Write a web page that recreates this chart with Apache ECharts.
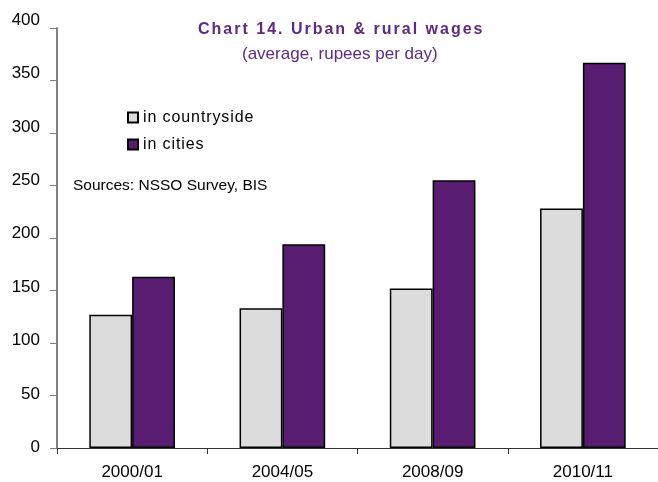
<!DOCTYPE html>
<html>
<head>
<meta charset="utf-8">
<script src="https://cdn.jsdelivr.net/npm/echarts@6/dist/echarts.min.js"></script>
<style>
  html, body { margin: 0; padding: 0; background: #fff; }
  #chart { width: 658px; height: 482px; }
</style>
</head>
<body>
<div id="chart"></div>
<script>
// Average daily wages, rupees
const periods = ['2000/01', '2004/05', '2008/09', '2010/11'];
const countryside = [127, 133, 152, 228];
const cities = [163, 194, 255, 367];
const yTicks = [0, 50, 100, 150, 200, 250, 300, 350, 400];

const titleText = 'Chart 14. Urban & rural wages';
const subtitleText = '(average, rupees per day)';
const sourceText = 'Sources: NSSO Survey, BIS';

const FONT = '"Liberation Sans", Arial, sans-serif';
const PURPLE = '#581d70';
const TITLE_PURPLE = '#5e2a84';

// Spread characters apart by wrapping each one in a padded rich-text token
function spaced(str, style) {
  return str.split('').map(ch => '{' + style + '|' + ch + '}').join('');
}

// Value-axis labels sit a little above their ticks, more so towards the top
const yLabelRich = {};
yTicks.forEach((v, i) => {
  const lift = 0.5 + 7.5 * i / (yTicks.length - 1);
  yLabelRich['y' + i] = {
    fontFamily: FONT, fontSize: 17, color: '#000',
    padding: [0, 0, Math.round(lift * 2), 0]
  };
});

const chart = echarts.init(document.getElementById('chart'), null, { renderer: 'canvas' });

chart.setOption({
  animation: false,
  backgroundColor: '#ffffff',
  textStyle: { fontFamily: FONT },
  legend: {
    orient: 'vertical',
    left: 127,
    top: 109,
    padding: 0,
    itemWidth: 10,
    itemHeight: 10,
    itemGap: 10,
    icon: 'rect',
    formatter: name => spaced(name, 'c'),
    textStyle: {
      fontFamily: FONT, fontSize: 16, color: '#000', lineHeight: 17,
      rich: { c: { fontFamily: FONT, fontSize: 16, color: '#000', padding: [0, 0.9, 0, 0] } }
    },
    data: ['in countryside', 'in cities']
  },
  graphic: [
    {
      type: 'text',
      left: 342 - 144,
      top: 22,
      style: {
        text: spaced(titleText, 't'),
        rich: { t: { font: 'bold 16px ' + FONT, fill: TITLE_PURPLE, padding: [0, 2, 0, 0] } }
      }
    },
    {
      type: 'text',
      left: 242,
      top: 46,
      style: { text: subtitleText, font: '17px ' + FONT, fill: TITLE_PURPLE }
    },
    {
      type: 'text',
      left: 73,
      top: 178,
      style: { text: sourceText, font: '15.5px ' + FONT, fill: '#000' }
    }
  ],
  grid: { left: 57, top: 28, bottom: 34, width: 613, containLabel: false },
  xAxis: {
    type: 'category',
    data: periods,
    axisLine: { lineStyle: { color: '#333', width: 1 } },
    axisTick: { show: true, length: 6, lineStyle: { color: '#333' } },
    axisLabel: { fontFamily: FONT, fontSize: 17, color: '#000', margin: 16 }
  },
  yAxis: {
    type: 'value',
    min: yTicks[0],
    max: yTicks[yTicks.length - 1],
    interval: 50,
    axisLine: { show: true, lineStyle: { color: '#808080', width: 2 } },
    axisTick: { show: true, length: 7, lineStyle: { color: '#808080', width: 1 } },
    splitLine: { show: false },
    axisLabel: {
      fontFamily: FONT, fontSize: 17, color: '#000', margin: 17,
      formatter: v => '{y' + yTicks.indexOf(v) + '|' + v + '}',
      rich: yLabelRich
    }
  },
  series: [
    {
      name: 'in countryside',
      type: 'bar',
      data: countryside,
      barGap: '0%',
      barCategoryGap: '43%',
      itemStyle: { color: '#dcdcdc', borderColor: '#000', borderWidth: 1.5 }
    },
    {
      name: 'in cities',
      type: 'bar',
      data: cities,
      itemStyle: { color: PURPLE, borderColor: '#000', borderWidth: 1.5 }
    }
  ]
});
</script>
</body>
</html>
